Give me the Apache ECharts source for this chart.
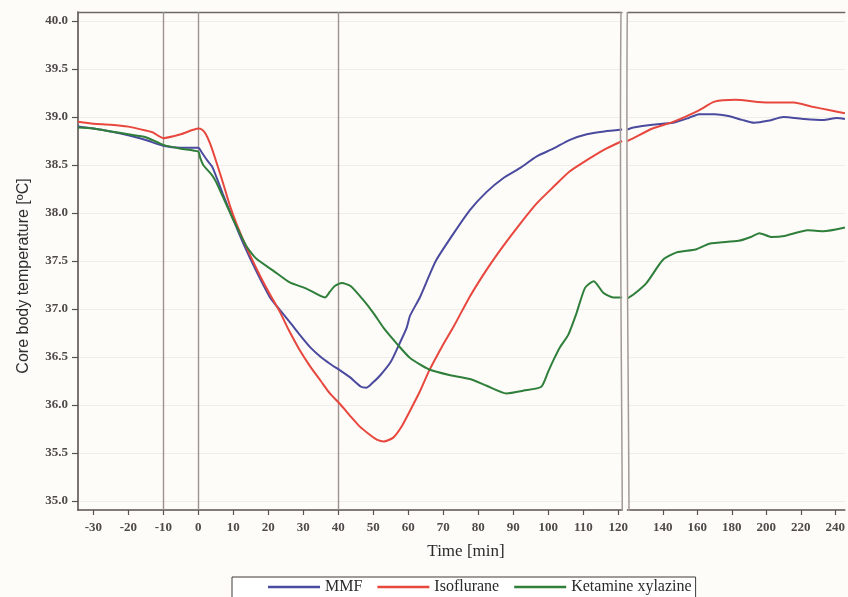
<!DOCTYPE html>
<html>
<head>
<meta charset="utf-8">
<script src="https://cdn.jsdelivr.net/npm/echarts@6/dist/echarts.min.js"></script>
<style>
  html, body { margin: 0; padding: 0; background: #fdfcf9; }
  #chart { width: 848px; height: 597px; }
</style>
</head>
<body>
<div id="chart"></div>
<script>
// Core body temperature over time, three anaesthesia protocols.
// Time axis is broken after 120 min; the later part uses a compressed scale.

const seriesNames = ['MMF', 'Isoflurane', 'Ketamine xylazine'];

// [time (min), temperature (°C)] before the break
const mmfEarly = [[-34.4,38.90],[-30,38.88],[-25,38.85],[-20,38.81],[-15,38.76],[-10,38.70],[-5,38.68],[0,38.68],[1,38.63],[2.5,38.55],[4,38.48],[7,38.20],[10,37.93],[13,37.67],[16.5,37.40],[20.5,37.12],[23.3,36.99],[26.2,36.86],[29,36.73],[32,36.60],[35,36.50],[37.6,36.43],[40.5,36.36],[43.3,36.29],[46.5,36.19],[48,36.18],[49.5,36.22],[52,36.31],[55,36.45],[57,36.60],[59.5,36.80],[60.5,36.93],[63.3,37.12],[66,37.35],[68,37.51],[73,37.79],[77.6,38.03],[82.4,38.22],[87,38.36],[92,38.47],[96.7,38.59],[101.4,38.67],[106,38.76],[111,38.82],[116,38.85],[121.1,38.87]];
const isoEarly = [[-34.4,38.95],[-30,38.93],[-25,38.92],[-20,38.90],[-15,38.86],[-13,38.84],[-10,38.78],[-5,38.82],[0,38.88],[1,38.87],[2,38.83],[3.3,38.73],[5,38.55],[7,38.32],[9,38.08],[11,37.88],[14.3,37.60],[18,37.32],[20.5,37.15],[23.3,36.97],[26,36.77],[29,36.57],[32,36.40],[35,36.25],[37.6,36.12],[40.5,36.01],[43.3,35.89],[46,35.78],[49,35.69],[51,35.64],[53,35.62],[55.7,35.66],[58,35.77],[60.5,35.94],[63.3,36.14],[66,36.36],[69.5,36.60],[73,36.82],[77.6,37.13],[82.4,37.41],[87,37.65],[92,37.89],[96.7,38.10],[101.4,38.27],[106,38.43],[111,38.55],[116,38.66],[121.1,38.75]];
const ketEarly = [[-34.4,38.89],[-30,38.88],[-25,38.85],[-20,38.82],[-15,38.79],[-10,38.71],[-5,38.67],[0,38.64],[0.5,38.58],[1.4,38.50],[3.8,38.40],[5,38.33],[7,38.17],[10,37.93],[13.8,37.65],[16.7,37.52],[21.4,37.40],[26,37.28],[31,37.21],[36.2,37.12],[37.6,37.18],[39,37.24],[41,37.27],[43.5,37.24],[47,37.10],[50,36.96],[53,36.80],[56.7,36.64],[60.5,36.49],[66,36.37],[72,36.31],[77.6,36.27],[82.4,36.20],[88,36.12],[93,36.15],[98,36.19],[100,36.35],[101.5,36.47],[103.3,36.60],[105.7,36.73],[108,36.95],[110.5,37.22],[113,37.29],[115.7,37.17],[118.6,37.12],[121.1,37.12]];

// [time (min), temperature (°C)] after the break
const mmfLate = [[119.5,38.87],[123,38.89],[134,38.92],[146,38.94],[155,38.99],[161,39.03],[170,39.03],[178,39.01],[186,38.97],[193,38.94],[201,38.96],[210,39.00],[222,38.98],[233,38.97],[241,38.99],[245.6,38.98]];
const isoLate = [[119.5,38.75],[123,38.78],[134,38.88],[146,38.95],[161,39.07],[170,39.16],[182,39.18],[201,39.15],[216,39.15],[226,39.11],[237,39.07],[245.6,39.04]];
const ketLate = [[119.5,37.11],[123,37.15],[130.5,37.27],[140,37.51],[148,37.59],[159,37.62],[167,37.68],[184,37.71],[191,37.75],[196,37.79],[203,37.75],[210.5,37.76],[224,37.82],[233,37.81],[245.6,37.85]];

// Tick positions
const xTicksEarly = [-30,-20,-10,0,10,20,30,40,50,60,70,80,90,100,110,120];
const xTicksLate = [140,160,180,200,220,240];
const yTicks = [35.0,35.5,36.0,36.5,37.0,37.5,38.0,38.5,39.0,39.5,40.0];

// Event markers (min)
const eventTimes = [-10, 0, 40];

const colors = ['#4a4a9e', '#e8473e', '#2f7f3b'];
const axisColor = '#5a524e';
const serif = '"Liberation Serif", "Times New Roman", serif';

const chart = echarts.init(document.getElementById('chart'), null, { renderer: 'canvas' });

const gridTop = 12, gridBottom = 597 - 510;

function yAxisFor(gridIndex, showAxis) {
  return {
    type: 'value', gridIndex: gridIndex, position: 'left',
    min: 34.906, max: 40.094,
    axisLine: { show: showAxis, onZero: false, lineStyle: { color: axisColor, width: 1.6 } },
    axisTick: { show: showAxis, customValues: yTicks, length: 6, lineStyle: { color: axisColor, width: 1.2 } },
    axisLabel: {
      show: showAxis, customValues: yTicks, margin: 10,
      formatter: v => v.toFixed(1),
      fontFamily: serif, fontSize: 13, fontWeight: 'bold', color: '#4d4a48'
    },
    splitLine: { show: true, lineStyle: { color: '#eeede7', width: 1 } }
  };
}

function xAxisFor(gridIndex, min, max, ticks) {
  return {
    type: 'value', gridIndex: gridIndex, position: 'bottom',
    min: min, max: max,
    axisLine: { show: true, onZero: false, lineStyle: { color: axisColor, width: 1.6 } },
    axisTick: { show: true, customValues: ticks, length: 5, lineStyle: { color: axisColor, width: 1.2 } },
    axisLabel: {
      customValues: ticks, margin: 11,
      fontFamily: serif, fontSize: 13, fontWeight: 'bold', color: '#4d4a48'
    },
    splitLine: { show: false }
  };
}

function topFrame(gridIndex) {
  return {
    type: 'value', gridIndex: gridIndex, position: 'top',
    axisLine: { show: true, onZero: false, lineStyle: { color: '#6e6764', width: 1.4 } },
    axisTick: { show: false }, axisLabel: { show: false }, splitLine: { show: false }
  };
}

function lineSeries(name, data, idx, axisIdx) {
  return {
    name: name, type: 'line', data: data,
    xAxisIndex: axisIdx, yAxisIndex: axisIdx,
    showSymbol: false, symbol: 'none',
    smooth: 0.2,
    lineStyle: { color: colors[idx], width: 2 },
    itemStyle: { color: colors[idx] },
    z: 3
  };
}

const series = [
  lineSeries(seriesNames[0], mmfEarly, 0, 0),
  lineSeries(seriesNames[1], isoEarly, 1, 0),
  lineSeries(seriesNames[2], ketEarly, 2, 0),
  lineSeries(seriesNames[0], mmfLate, 0, 1),
  lineSeries(seriesNames[1], isoLate, 1, 1),
  lineSeries(seriesNames[2], ketLate, 2, 1)
];
series[0].markLine = {
  silent: true, symbol: 'none', z: 1,
  label: { show: false },
  lineStyle: { color: '#9d928d', width: 1.4, type: 'solid' },
  data: eventTimes.map(t => ({ xAxis: t }))
};

// Wavy double line marking the axis break
const breakLineStyle = { stroke: '#a39a95', lineWidth: 1.5, fill: null };

chart.setOption({
  backgroundColor: '#fdfcf9',
  animation: false,
  grid: [
    { left: 78, top: gridTop, width: 544, bottom: gridBottom },
    { left: 627.5, top: gridTop, right: 0, bottom: gridBottom }
  ],
  xAxis: [
    xAxisFor(0, -34.37, 121.06, xTicksEarly),
    xAxisFor(1, 119.54, 245.54, xTicksLate),
    topFrame(0),
    topFrame(1)
  ],
  yAxis: [yAxisFor(0, true), yAxisFor(1, false)],
  legend: {
    data: seriesNames,
    left: 232, top: 577,
    icon: 'rect', itemWidth: 52, itemHeight: 2.5, itemGap: 15,
    padding: [2, 4, 8, 36],
    borderColor: '#3f3b39', borderWidth: 1,
    backgroundColor: '#ffffff',
    textStyle: { fontFamily: serif, fontSize: 16, color: '#2a2a2a' }
  },
  graphic: [
    {
      type: 'text', x: 24, y: 276, rotation: Math.PI / 2,
      style: {
        text: 'Core body temperature [ºC]',
        font: '16px "Liberation Sans", Arial, sans-serif',
        fill: '#2e2e2e', align: 'center', verticalAlign: 'middle'
      }
    },
    {
      type: 'text', x: 466, y: 552,
      style: {
        text: 'Time [min]',
        font: '17px "Liberation Serif", "Times New Roman", serif',
        fill: '#2a2a2a', align: 'center', verticalAlign: 'middle'
      }
    },
    {
      type: 'bezierCurve', z: 10,
      shape: { x1: 621, y1: 12, cpx1: 619.3, cpy1: 180, cpx2: 621.6, cpy2: 360, x2: 622.3, y2: 511 },
      style: breakLineStyle
    },
    {
      type: 'bezierCurve', z: 10,
      shape: { x1: 627.3, y1: 12, cpx1: 625.8, cpy1: 180, cpx2: 628.4, cpy2: 360, x2: 629, y2: 511 },
      style: breakLineStyle
    }
  ],
  series: series
});
</script>
</body>
</html>
